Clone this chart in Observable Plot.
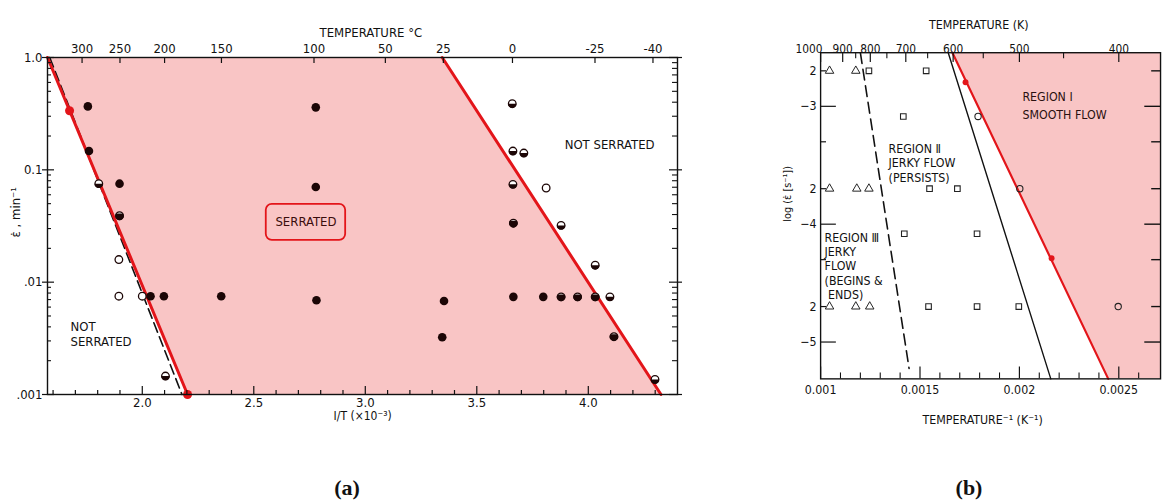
<!DOCTYPE html>
<html><head><meta charset="utf-8">
<script src="https://cdn.jsdelivr.net/npm/d3@7"></script>
<script src="https://cdn.jsdelivr.net/npm/@observablehq/plot@0.6"></script>
<style>
html,body{margin:0;padding:0;background:#fff;overflow:hidden;}
#root{position:relative;width:1164px;height:503px;overflow:hidden;}
#pa{position:absolute;left:0;top:0;}
#pb{position:absolute;left:760px;top:0;}
.cap{position:absolute;top:477px;font-family:"Liberation Serif","DejaVu Serif",serif;font-weight:bold;font-size:22px;line-height:1;transform:translateX(-50%);color:#111;}
</style></head><body>
<div id="root"><div id="pa"></div><div id="pb"></div>
<div class="cap" style="left:347px">(a)</div><div class="cap" style="left:969px">(b)</div></div>
<script>
// ---------------- Panel (a) data ----------------
// x = 1/T (x10^-3 K^-1), y = strain rate (min^-1)
const aFilled = [[1.756,0.367],[1.761,0.147],[1.898,0.0753],[2.778,0.36],[2.778,0.0703],[2.037,0.0075],[2.097,0.0075],[2.354,0.0075],[2.781,0.0069],[3.353,0.0068],[3.345,0.00323],[3.664,0.0074],[3.798,0.0074]];
const aMostly = [[1.898,0.039],[3.664,0.0335],[3.878,0.0074],[3.952,0.0074],[4.031,0.0074],[4.115,0.00327]];
const aHalf = [[1.805,0.0753],[2.104,0.00146],[3.659,0.388],[3.662,0.147],[3.711,0.141],[3.662,0.0743],[3.878,0.032],[4.031,0.01416],[4.097,0.0074],[4.299,0.00136]];
const aOpen = [[1.895,0.0159],[1.895,0.0075],[2.0,0.0075],[3.811,0.0689]];
const aRedLeftX = [1.575, 2.203];
const aRedRightX = [3.345, 4.326];
const aDashX = [1.585, 2.178];
const aLineY = [1.0, 0.001];
const aRedDots = [[1.674,0.336],[2.203,0.001]];
const aXDomain = [1.575, 4.40];
const aYDomain = [0.001, 1];
const aXMajor = [2.0, 2.5, 3.0, 3.5, 4.0];
const aXMinor = [1.6,1.7,1.8,1.9,2.1,2.2,2.3,2.4,2.6,2.7,2.8,2.9,3.1,3.2,3.3,3.4,3.6,3.7,3.8,3.9,4.1,4.2,4.3];
const aYMajor = [1, 0.1, 0.01, 0.001];
const aYMajorLabels = ["1.0", "0.1", ".01", ".001"];
const aYMinorMult = [2,3,4,5,6,7,8,9];
const aTopLabels = ["300","250","200","150","100","50","25","0","-25","-40"];
const aTopPos = [1.73, 1.90, 2.10, 2.355, 2.77, 3.09, 3.35, 3.66, 4.03, 4.29];
const aBox = {x1: 2.556, x2: 2.912, y1: 0.0236, y2: 0.0493};

// ---------------- Panel (b) data ----------------
// x = 1/T (K^-1), y = strain rate (s^-1)
const bTri = [[0.001045,2e-3],[0.001177,2e-3],[0.001045,2e-4],[0.001182,2e-4],[0.001243,2e-4],[0.001045,2e-5],[0.001177,2e-5],[0.001247,2e-5]];
const bSq = [[0.001243,2e-3],[0.001531,2e-3],[0.001416,8.2e-4],[0.001548,2e-4],[0.001688,2e-4],[0.001421,8.3e-5],[0.001787,8.3e-5],[0.001543,2e-5],[0.001787,2e-5],[0.001997,2e-5]];
const bCirc = [[0.001792,8.2e-4],[0.002002,2e-4],[0.002497,2e-5]];
const bXDomain = [0.001, 0.00271];
const bYDomain = [4.87e-6, 2.85e-3];
const bRedX = [0.001663, 0.002447];
const bBlackX = [0.001642, 0.002158];
const bLineY = [2.85e-3, 4.87e-6];
const bDashX = [0.0012, 0.001445];
const bDashY = [2.85e-3, 5.98e-6];
const bRedDots = [[0.001729,1.6e-3],[0.002162,5.14e-5]];
const bYTicks = [2e-3,1e-3,5e-4,2e-4,1e-4,5e-5,2e-5,1e-5];
const bYLabels = ["2","\u22123","5","2","\u22124","5","2","\u22125"];
const bYDecades = [1e-3,1e-4,1e-5];
const bXMajor = [0.001,0.0015,0.002,0.0025];
const bXLabels = ["0.001","0.0015","0.002","0.0025"];
const bXMinor = [0.0011,0.0012,0.0013,0.0014,0.0016,0.0017,0.0018,0.0019,0.0021,0.0022,0.0023,0.0024,0.0026];
const bTopK = [1000,900,800,700,600,500,400];
const bTopMinorK = [850,750,650,550,450];

// ---------------- styling ----------------
const FONT = '"DejaVu Sans Condensed","Liberation Sans Narrow","Roboto Condensed","DejaVu Sans",sans-serif';
const PINK = "#f9c5c5";
const RED = "#e3151a";
const INK = "#1c0606";

function chordSymbol(frac) {
  return {draw(ctx, size) {
    const r = Math.sqrt(size / Math.PI);
    const y0 = r - 2 * r * frac;
    const th = Math.asin(y0 / r);
    ctx.moveTo(r * Math.cos(th), r * Math.sin(th));
    ctx.arc(0, 0, r, th, Math.PI - th);
    ctx.closePath();
  }};
}
const pt = d => ({x: d[0], y: d[1]});

// ---------------- Panel (a) ----------------
{
  const W = 700, H = 440, ML = 47, MR = 23, MT = 57, MB = 46;
  const PW = W - ML - MR, PH = H - MT - MB;
  const yMinor = aYMajor.slice(1).flatMap(dec => aYMinorMult.map(m => m * dec));
  const topMap = new Map(aTopPos.map((p, i) => [p, aTopLabels[i]]));
  const yMap = new Map(aYMajor.map((p, i) => [p, aYMajorLabels[i]]));
  const idx = [0, 1];
  const plot = Plot.plot({
    width: W, height: H, marginLeft: ML, marginRight: MR, marginTop: MT, marginBottom: MB,
    style: {fontFamily: FONT, fontSize: "13px", color: "#111", background: "transparent"},
    x: {domain: aXDomain, axis: null},
    y: {type: "log", domain: aYDomain, axis: null},
    marks: [
      Plot.areaX(idx, {y: i => aLineY[i], x1: i => aRedLeftX[i], x2: i => aRedRightX[i], fill: PINK}),
      Plot.rect([aBox], {x1: "x1", x2: "x2", y1: "y1", y2: "y2", rx: 6, fill: "none", stroke: RED, strokeWidth: 1.8}),
      Plot.text(["SERRATED"], {x: (aBox.x1 + aBox.x2) / 2, y: Math.sqrt(aBox.y1 * aBox.y2), text: d => d, fill: "#3a0c0c", fontSize: 13}),
      Plot.line(idx, {x: i => aDashX[i], y: i => aLineY[i], stroke: "#111", strokeWidth: 1.6, strokeDasharray: "10,5"}),
      Plot.line(idx, {x: i => aRedLeftX[i], y: i => aLineY[i], stroke: RED, strokeWidth: 3}),
      Plot.line(idx, {x: i => aRedRightX[i], y: i => aLineY[i], stroke: RED, strokeWidth: 3}),
      Plot.dot(aFilled.map(pt), {x: "x", y: "y", r: 4.3, fill: INK}),
      Plot.dot([...aOpen, ...aHalf, ...aMostly].map(pt), {x: "x", y: "y", r: 3.8, fill: "white", stroke: INK, strokeWidth: 1.3}),
      Plot.dot(aHalf.map(pt), {x: "x", y: "y", r: 4.2, symbol: chordSymbol(0.5), fill: INK}),
      Plot.dot(aMostly.map(pt), {x: "x", y: "y", r: 4.2, symbol: chordSymbol(0.78), fill: INK}),
      Plot.dot(aRedDots.map(pt), {x: "x", y: "y", r: 4.5, fill: RED}),
      Plot.frame({stroke: "#111", strokeWidth: 1.4}),
      // ticks
      Plot.tickX(aTopPos, {x: d => d, insetBottom: PH - 6, stroke: "#111", strokeWidth: 1.2}),
      Plot.tickX(aXMinor, {x: d => d, insetTop: PH - 4, stroke: "#111", strokeWidth: 1.2}),
      Plot.tickX(aXMajor, {x: d => d, insetTop: PH - 8, stroke: "#111", strokeWidth: 1.2}),
      Plot.tickY(yMinor, {y: d => d, insetRight: PW - 4, stroke: "#111", strokeWidth: 1.1}),
      Plot.tickY(aYMajor, {y: d => d, insetLeft: -5, insetRight: PW - 7, stroke: "#111", strokeWidth: 1.2}),
      Plot.tickY(yMinor, {y: d => d, insetLeft: PW - 5, stroke: "#111", strokeWidth: 1.1}),
      Plot.tickY(aYMajor, {y: d => d, insetLeft: PW - 8, insetRight: -5, stroke: "#111", strokeWidth: 1.2}),
      // axes labels
      Plot.axisX(aXMajor, {anchor: "bottom", tickSize: 0, tickPadding: 3, tickFormat: d => d.toFixed(1), label: null}),
      Plot.axisX(aTopPos, {anchor: "top", tickSize: 0, tickPadding: 5, tickFormat: d => topMap.get(d), label: null}),
      Plot.axisY(aYMajor, {anchor: "left", tickSize: 0, tickPadding: 5, tickFormat: d => yMap.get(d), label: null}),
      Plot.text(["TEMPERATURE \u00B0C"], {x: 3.025, frameAnchor: "top", dy: -30, text: d => d}),
      Plot.text(["I/T (\u00D710\u207B\u00B3)"], {x: 2.858, frameAnchor: "bottom", dy: 25, textAnchor: "start", text: d => d, fontSize: 12}),
      Plot.text(["\u03B5\u0307 , min\u207B\u00B9"], {y: 0.025, frameAnchor: "left", dx: -32, rotate: -90, text: d => d}),
      Plot.text(["NOT SERRATED"], {x: 3.894, y: 0.1686, textAnchor: "start", text: d => d}),
      Plot.text(["NOT\nSERRATED"], {x: 1.678, y: 0.00349, textAnchor: "start", lineHeight: 1.13, text: d => d})
    ]
  });
  document.getElementById("pa").appendChild(plot);
}

// ---------------- Panel (b) ----------------
{
  const W = 410, H = 440, ML = 61, MR = 4, MT = 53, MB = 56;
  const PW = W - ML - MR, PH = H - MT - MB;
  const yMap = new Map(bYTicks.map((p, i) => [p, bYLabels[i]]));
  const xMap = new Map(bXMajor.map((p, i) => [p, bXLabels[i]]));
  const yOther = bYTicks.filter(v => !bYDecades.includes(v));
  const idx = [0, 1];
  const plot = Plot.plot({
    width: W, height: H, marginLeft: ML, marginRight: MR, marginTop: MT, marginBottom: MB,
    style: {fontFamily: FONT, fontSize: "12.5px", color: "#111", background: "transparent", overflow: "visible"},
    x: {domain: bXDomain, axis: null},
    y: {type: "log", domain: bYDomain, axis: null},
    marks: [
      Plot.areaX(idx, {y: i => bLineY[i], x1: i => bRedX[i], x2: bXDomain[1], fill: PINK}),
      Plot.line(idx, {x: i => bDashX[i], y: i => bDashY[i], stroke: "#111", strokeWidth: 1.6, strokeDasharray: "11,6"}),
      Plot.line(idx, {x: i => bBlackX[i], y: i => bLineY[i], stroke: "#111", strokeWidth: 1.4}),
      Plot.line(idx, {x: i => bRedX[i], y: i => bLineY[i], stroke: RED, strokeWidth: 2.2}),
      Plot.dot(bRedDots.map(pt), {x: "x", y: "y", r: 3, fill: RED}),
      Plot.dot(bTri.map(pt), {x: "x", y: "y", r: 3.2, symbol: "triangle", fill: "white", stroke: "#222", strokeWidth: 1}),
      Plot.dot(bSq.map(pt), {x: "x", y: "y", r: 3.2, symbol: "square", fill: "white", stroke: "#222", strokeWidth: 1.1}),
      Plot.dot(bCirc.map(pt), {x: "x", y: "y", r: 3.2, fill: "none", stroke: "#222", strokeWidth: 1.1}),
      Plot.frame({stroke: "#111", strokeWidth: 1.4}),
      // ticks
      Plot.tickY(bYDecades, {y: d => d, insetRight: PW - 16, stroke: "#111", strokeWidth: 1.2}),
      Plot.tickY(yOther, {y: d => d, insetRight: PW - 6, stroke: "#111", strokeWidth: 1.2}),
      Plot.tickY(bYDecades, {y: d => d, insetLeft: PW - 16, stroke: "#111", strokeWidth: 1.4}),
      Plot.tickY(yOther, {y: d => d, insetLeft: PW - 9, stroke: "#111", strokeWidth: 1.4}),
      Plot.tickX(bXMinor, {x: d => d, insetTop: PH - 6, stroke: "#111", strokeWidth: 1.1}),
      Plot.tickX(bXMajor, {x: d => d, insetTop: PH - 12, stroke: "#111", strokeWidth: 1.2}),
      Plot.tickX(bTopK, {x: d => 1 / d, insetBottom: PH - 10, stroke: "#111", strokeWidth: 1.2}),
      Plot.tickX(bTopMinorK, {x: d => 1 / d, insetBottom: PH - 6, stroke: "#111", strokeWidth: 1.1}),
      // axes labels
      Plot.axisX(bXMajor, {anchor: "bottom", tickSize: 0, tickPadding: 6, tickFormat: d => xMap.get(d), label: null}),
      Plot.text(bTopK.slice(1), {x: d => 1 / d, frameAnchor: "top", dy: -8, text: d => String(d), fontSize: 12}),
      Plot.text(bTopK.slice(0, 1), {x: d => 1 / d, frameAnchor: "top", dy: -8, dx: 2, textAnchor: "end", text: d => String(d), fontSize: 12}),
      Plot.axisY(bYTicks, {anchor: "left", tickSize: 0, tickPadding: 4, tickFormat: d => yMap.get(d), label: null}),
      Plot.text(["TEMPERATURE (K)"], {x: 0.001796, frameAnchor: "top", dy: -33, text: d => d}),
      Plot.text(["TEMPERATURE\u207B\u00B9 (K\u207B\u00B9)"], {x: 0.001815, frameAnchor: "bottom", dy: 46, text: d => d}),
      Plot.text(["log (\u03B5\u0307 [s\u207B\u00B9])"], {y: 1.05e-4, frameAnchor: "left", dx: -34, rotate: -90, text: d => d, fontSize: 11}),
      Plot.text(["REGION \u2160\nSMOOTH FLOW"], {x: 0.002015, y: 1.036e-3, textAnchor: "start", lineHeight: 1.45, text: d => d, fill: "#2a1010"}),
      Plot.text(["REGION \u2161\nJERKY FLOW\n(PERSISTS)"], {x: 0.001342, y: 3.31e-4, textAnchor: "start", lineHeight: 1.15, text: d => d}),
      Plot.text(["REGION \u2162\nJERKY\nFLOW\n(BEGINS &\n ENDS)"], {x: 0.00102, y: 4.43e-5, textAnchor: "start", lineHeight: 1.15, text: d => d})
    ]
  });
  document.getElementById("pb").appendChild(plot);
}
</script>
</body></html>
